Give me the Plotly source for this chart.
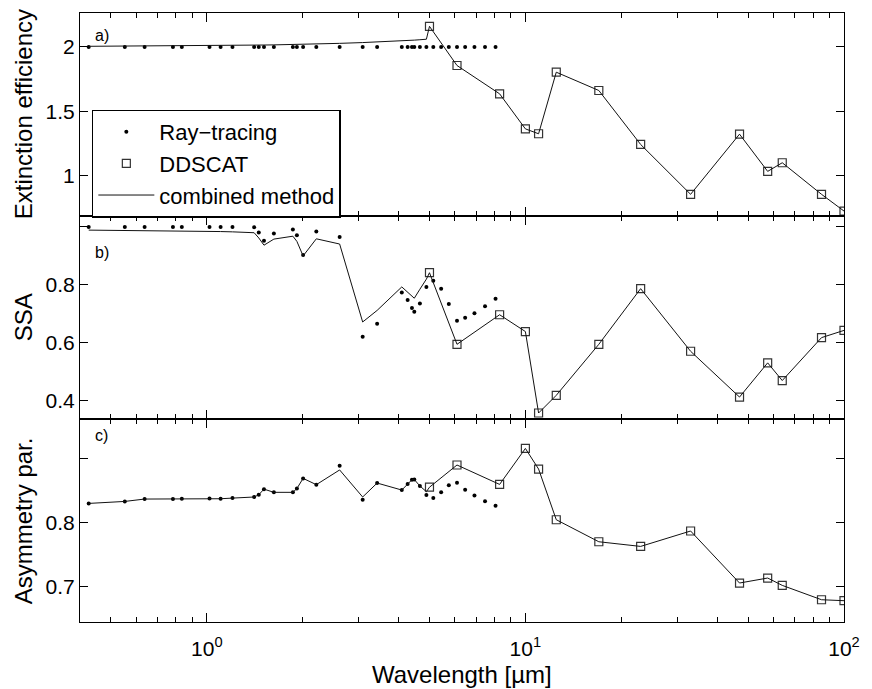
import plotly.graph_objects as go
from plotly.subplots import make_subplots

# ---------------- data ----------------
ray_wl = [0.426, 0.553, 0.638, 0.783, 0.835, 1.02, 1.105, 1.204, 1.408, 1.456,
          1.512, 1.624, 1.863, 1.918, 2.006, 2.207, 2.612, 3.085, 3.425, 4.093,
          4.27, 4.405, 4.48, 4.665, 4.89, 5.14, 5.44, 5.75, 6.10, 6.47,
          6.92, 7.47, 8.06]

ddscat_wl = [5.0, 6.1, 8.3, 10.0, 11.0, 12.5, 17.0, 23.0, 33.0, 47.0, 57.6, 64.0, 85.0, 100.0]

comb_wl = [0.426, 0.553, 0.638, 0.783, 0.835, 1.02, 1.105, 1.204, 1.408, 1.456,
           1.512, 1.624, 1.863, 1.918, 2.006, 2.207, 2.612, 3.085, 3.425, 4.093,
           4.27, 4.405, 4.48, 4.665, 4.89,
           5.0, 6.1, 8.3, 10.0, 11.0, 12.5, 17.0, 23.0, 33.0, 47.0, 57.6, 64.0, 85.0, 100.0]

# a) extinction efficiency
ray_qext = [2.0, 2.0, 2.0, 2.0, 2.0, 2.0, 2.0, 2.0, 2.0, 2.0,
            2.0, 2.0, 2.0, 2.0, 2.0, 2.0, 2.0, 2.0, 2.0, 2.0,
            2.0, 2.0, 2.0, 2.0, 2.0, 2.0, 2.0, 2.0, 2.0, 2.0,
            2.0, 2.0, 2.0]
dds_qext = [2.16, 1.856, 1.636, 1.364, 1.326, 1.804, 1.662, 1.243, 0.856, 1.323,
            1.034, 1.101, 0.856, 0.726]
comb_qext = [2.005, 2.006, 2.007, 2.008, 2.008, 2.010, 2.011, 2.012, 2.014, 2.014,
             2.015, 2.016, 2.018, 2.019, 2.020, 2.023, 2.028, 2.034, 2.038, 2.047,
             2.050, 2.052, 2.053, 2.056, 2.060,
             2.16, 1.856, 1.636, 1.364, 1.326, 1.804, 1.662, 1.243, 0.856, 1.323,
             1.034, 1.101, 0.856, 0.726]

# b) single scattering albedo
ray_ssa = [1.0, 1.0, 1.0, 1.0, 1.0, 1.0, 1.0, 1.0, 0.999, 0.981,
           0.952, 0.977, 0.991, 0.971, 0.903, 0.984, 0.965, 0.621, 0.666, 0.774,
           0.748, 0.720, 0.707, 0.736, 0.793, 0.814, 0.787, 0.734, 0.676, 0.687,
           0.702, 0.726, 0.752]
dds_ssa = [0.842, 0.595, 0.697, 0.639, 0.358, 0.419, 0.595, 0.787, 0.571, 0.413,
           0.531, 0.470, 0.618, 0.643]
comb_ssa = [0.989, 0.988, 0.988, 0.987, 0.987, 0.985, 0.984, 0.983, 0.980, 0.962,
            0.937, 0.958, 0.968, 0.950, 0.900, 0.959, 0.941, 0.672, 0.712, 0.793,
            0.775, 0.760, 0.754, 0.785, 0.820,
            0.842, 0.595, 0.697, 0.639, 0.358, 0.419, 0.595, 0.787, 0.571, 0.413,
            0.531, 0.470, 0.618, 0.643]

# c) asymmetry parameter
ray_g = [0.8297, 0.8328, 0.8365, 0.8365, 0.837, 0.8375, 0.837, 0.838, 0.8397, 0.8433,
         0.852, 0.847, 0.847, 0.853, 0.8688, 0.859, 0.8886, 0.8355, 0.8615, 0.8506,
         0.860, 0.8667, 0.867, 0.857, 0.843, 0.838, 0.847, 0.858, 0.862, 0.851,
         0.842, 0.833, 0.826]
dds_g = [0.855, 0.8897, 0.8594, 0.9156, 0.8834, 0.8042, 0.7698, 0.7625, 0.7866, 0.7053,
         0.7131, 0.7016, 0.6792, 0.6777]
comb_g = [0.8297, 0.8328, 0.8365, 0.8365, 0.837, 0.8375, 0.837, 0.838, 0.8397, 0.8433,
          0.852, 0.847, 0.847, 0.853, 0.8688, 0.859, 0.882, 0.8397, 0.8615, 0.8506,
          0.860, 0.8667, 0.867, 0.857, 0.848,
          0.855, 0.8897, 0.8594, 0.9156, 0.8834, 0.8042, 0.7698, 0.7625, 0.7866, 0.7053,
          0.7131, 0.7016, 0.6792, 0.6777]

x_tickvals = [1, 10, 100]
x_ticktext = ["10<sup>0</sup>", "10<sup>1</sup>", "10<sup>2</sup>"]
x_minor = [0.5, 0.6, 0.7, 0.8, 0.9, 2, 3, 4, 5, 6, 7, 8, 9,
           20, 30, 40, 50, 60, 70, 80, 90]

ya_ticks = [1, 1.5, 2]
ya_text = ["1", "1.5", "2"]
yb_ticks = [0.4, 0.6, 0.8, 1.0]
yb_text = ["0.4", "0.6", "0.8", " "]
yc_ticks = [0.7, 0.8, 0.9]
yc_text = ["0.7", "0.8", " "]

panels = [
    (ray_qext, dds_qext, comb_qext),
    (ray_ssa, dds_ssa, comb_ssa),
    (ray_g, dds_g, comb_g),
]

FONT = "Liberation Sans, Arial, Helvetica, sans-serif"

fig = make_subplots(rows=3, cols=1, shared_xaxes=True, vertical_spacing=0)

for i, (ray, dds, comb) in enumerate(panels):
    row = i + 1
    first = (i == 0)
    fig.add_trace(go.Scatter(x=ray_wl, y=ray, mode="markers", name="Ray\u2212tracing",
                             marker=dict(symbol="circle", size=4, color="black"),
                             showlegend=first, legendrank=1), row=row, col=1)
    fig.add_trace(go.Scatter(x=ddscat_wl, y=dds, mode="markers", name="DDSCAT",
                             marker=dict(symbol="square-open", size=8, color="#333333",
                                         line=dict(width=1.2, color="#333333")),
                             showlegend=first, legendrank=2), row=row, col=1)
    fig.add_trace(go.Scatter(x=comb_wl, y=comb, mode="lines", name="combined method",
                             line=dict(color="#111111", width=1),
                             showlegend=first, legendrank=3), row=row, col=1)

axis_common = dict(showline=True, linecolor="black", linewidth=1.2, mirror="ticks",
                   ticks="inside", tickcolor="black", showgrid=False, zeroline=False,
                   tickfont=dict(family=FONT, size=21, color="black"))

for r in (1, 2, 3):
    fig.update_xaxes(type="log", range=[-0.39794, 2], tickvals=x_tickvals, ticktext=x_ticktext,
                     ticklen=9, tickwidth=1,
                     minor=dict(tickvals=x_minor, ticks="inside", ticklen=5, tickcolor="black",
                                tickwidth=1, showgrid=False),
                     ticklabelstandoff=8,
                     row=r, col=1, **axis_common)

fig.update_yaxes(range=[0.6876, 2.2636], tickvals=ya_ticks, ticktext=ya_text, ticklen=8,
                 row=1, col=1, **axis_common)
fig.update_yaxes(range=[0.3373, 1.0377], tickvals=yb_ticks, ticktext=yb_text, ticklen=8,
                 row=2, col=1, **axis_common)
fig.update_yaxes(range=[0.6444, 0.9616], tickvals=yc_ticks, ticktext=yc_text, ticklen=8,
                 row=3, col=1, **axis_common)

annos = [
    dict(text="Extinction efficiency", x=-0.0736, y=5/6, textangle=-90),
    dict(text="SSA", x=-0.0736, y=0.5, textangle=-90),
    dict(text="Asymmetry par.", x=-0.0736, y=1/6, textangle=-90),
    dict(text="Wavelength [\u00b5m]", x=0.5, y=-0.0854, textangle=0),
]
for a in annos:
    fig.add_annotation(xref="paper", yref="paper", xanchor="center", yanchor="middle",
                       showarrow=False, font=dict(family=FONT, size=24, color="black"), **a)

for txt, yy in (("a)", 0.9634), ("b)", 0.6074), ("c)", 0.3061)):
    fig.add_annotation(xref="paper", yref="paper", x=0.0168, y=yy, xanchor="left",
                       yanchor="middle", text=txt, showarrow=False,
                       font=dict(family=FONT, size=16, color="black"))

fig.update_layout(
    width=872, height=689,
    margin=dict(l=80, r=18, t=13, b=67),
    paper_bgcolor="white", plot_bgcolor="white",
    font=dict(family=FONT, color="black"),
    legend=dict(x=0.0155, y=0.8415, xanchor="left", yanchor="top", xref="paper", yref="paper",
                bgcolor="white", bordercolor="black", borderwidth=1.5,
                font=dict(family=FONT, size=22, color="black"),
                itemwidth=56, tracegroupgap=0, traceorder="normal"),
)

fig.write_html("out.html", config={"displayModeBar": False},
               post_script="document.body.style.margin='0px';")
